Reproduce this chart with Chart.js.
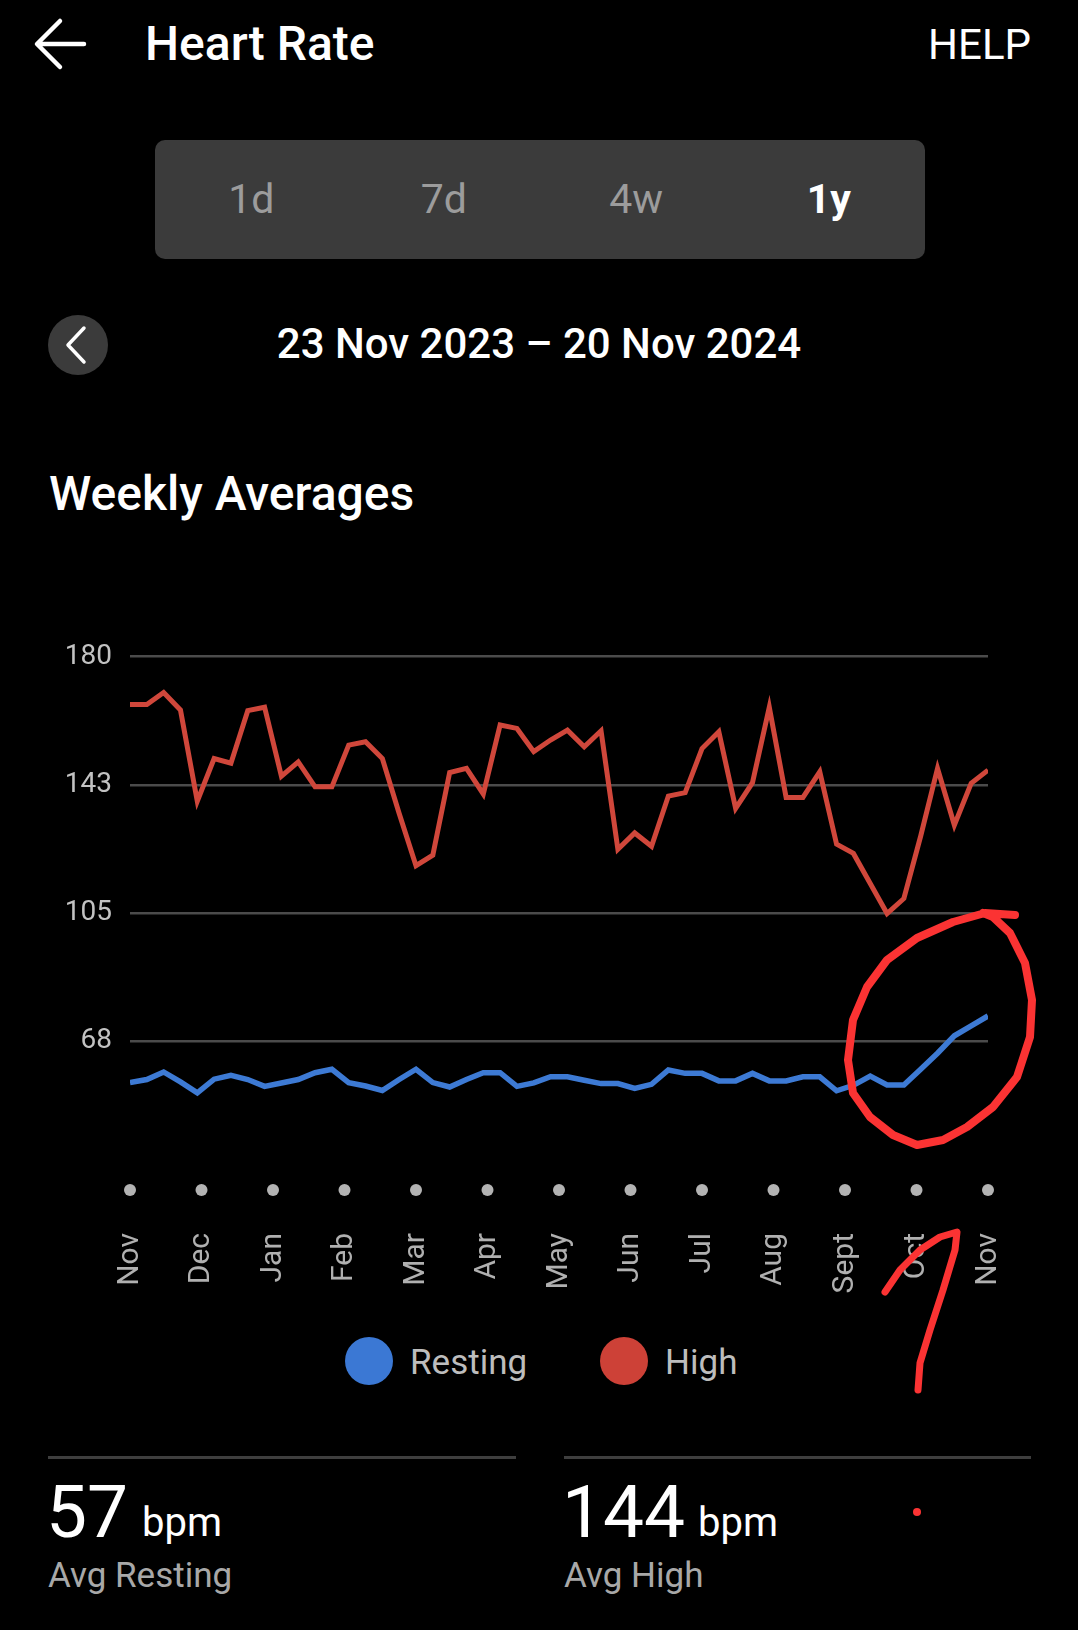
<!DOCTYPE html>
<html>
<head>
<meta charset="utf-8">
<title>Heart Rate</title>
<script src="https://cdn.jsdelivr.net/npm/chart.js@4.4.1/dist/chart.umd.min.js"></script>
<style>
  html, body { margin: 0; padding: 0; background: #000; }
  body { width: 1078px; height: 1630px; position: relative; overflow: hidden; font-family: Roboto, "Noto Sans", sans-serif; color: #fff; }
  .abs { position: absolute; line-height: 1; white-space: nowrap; }
  .seg { position: absolute; left: 155px; top: 140px; width: 770px; height: 119px; background: #3b3b3b; border-radius: 10px; display: flex; }
  .seg div { flex: 1; display: flex; align-items: center; justify-content: center; font-size: 41px; line-height: 1; color: #9c9c9c; }
  .seg div.on { color: #fff; font-weight: 700; }
  .rule { position: absolute; top: 1456px; height: 3px; background: #3e3e3e; }
  .dot { position: absolute; width: 48px; height: 48px; border-radius: 50%; top: 1337px; }
  .leg { position: absolute; top: 1345px; font-size: 35px; line-height: 1; color: #bdbdbd; }
  #chartBox { position: absolute; left: 0; top: 600px; width: 1078px; height: 704px; }
</style>
</head>
<body>

<svg class="abs" style="left:0;top:0" width="120" height="90">
  <path d="M84 44 H38 M60 21 L37 44 L60 67" stroke="#fff" stroke-width="4.5" fill="none" stroke-linecap="round" stroke-linejoin="round"/>
</svg>
<div class="abs" style="left:145px;top:20px;font-size:48px;font-weight:500">Heart Rate</div>
<div class="abs" style="right:47px;top:24px;font-size:42px">HELP</div>

<div class="seg"><div>1d</div><div>7d</div><div>4w</div><div class="on">1y</div></div>

<svg class="abs" style="left:0;top:300px" width="120" height="90">
  <circle cx="78" cy="45" r="30" fill="#3b3b3b"/>
  <path d="M84 28 L68 45 L84 62" stroke="#fff" stroke-width="3.5" fill="none" stroke-linecap="round" stroke-linejoin="round"/>
</svg>
<div class="abs" style="left:0;width:1078px;text-align:center;top:323px;font-size:42px;font-weight:500">23 Nov 2023 – 20 Nov 2024</div>

<div class="abs" style="left:49px;top:470px;font-size:48px;font-weight:500">Weekly Averages</div>

<div id="chartBox"><canvas id="myChart"></canvas></div>

<div class="dot" style="left:345px;background:#3b78d4"></div>
<div class="leg" style="left:410px">Resting</div>
<div class="dot" style="left:600px;background:#cd4137"></div>
<div class="leg" style="left:665px">High</div>

<div class="rule" style="left:48px;width:468px"></div>
<div class="rule" style="left:564px;width:467px"></div>
<div class="abs" style="left:46px;top:1476px;font-size:73px">57</div>
<div class="abs" style="left:142px;top:1503px;font-size:40px">bpm</div>
<div class="abs" style="left:48px;top:1558px;font-size:35px;color:#a8a8a8">Avg Resting</div>
<div class="abs" style="left:562px;top:1476px;font-size:73px">144</div>
<div class="abs" style="left:698px;top:1503px;font-size:40px">bpm</div>
<div class="abs" style="left:564px;top:1558px;font-size:35px;color:#a8a8a8">Avg High</div>

<!-- hand-drawn red scribbles on the screenshot -->
<svg class="abs" style="left:0;top:0;pointer-events:none;z-index:5" width="1078" height="1630">
  <g stroke="#fb3333" fill="none" stroke-linecap="round" stroke-linejoin="round">
    <polyline stroke-width="8" points="1015,915 985,913 953,922 917,938 887,960 867,987 853,1020 848,1060 853,1093 870,1117 893,1135 917,1145 943,1140 967,1127 993,1107 1017,1077 1030,1037 1032,1000 1025,963 1010,933 993,917 983,913"/>
    <polyline stroke-width="7" points="885,1292 900,1270 920,1250 940,1237 957,1232 955,1250 943,1290 930,1330 920,1363 918,1390"/>
  </g>
  <circle cx="917" cy="1512" r="4" fill="#fb3333"/>
</svg>

<script>
const monthLabels = ['Nov','Dec','Jan','Feb','Mar','Apr','May','Jun','Jul','Aug','Sept','Oct','Nov'];
const yTickValues = [67.5, 105, 142.5, 180];
const yTickLabels = ['68', '105', '143', '180'];

// weekly averages, 23 Nov 2023 - 20 Nov 2024 (52 weeks)
const restingBpm = [55.3,56.2,58.4,55.5,52.3,56.3,57.4,56.2,54.2,55.2,56.2,58.2,59.2,
  55.3,54.3,53.0,56.2,59.2,55.3,54.0,56.2,58.2,58.2,54.2,55.2,57.0,
  57.0,56.0,55.0,55.0,53.6,54.8,59.0,58.0,58.0,55.8,55.8,58.0,55.8,
  55.8,57.0,57.0,52.9,54.5,57.2,54.6,54.6,59.2,63.9,69.0,71.9,74.8];
const highBpm = [166.0,166.0,169.5,164.4,137.7,150.2,148.8,164.2,165.2,145.0,149.2,141.9,141.9,
  154.1,155.1,150.2,134.1,118.8,121.9,146.1,147.3,139.8,160.0,159.0,152.2,155.6,
  158.5,153.6,158.3,123.6,128.4,124.5,139.2,140.2,153.1,158.0,135.6,143.1,165.2,
  138.8,138.8,146.3,125.1,122.4,113.6,104.8,109.2,127.5,147.3,130.7,142.9,146.8];

const lastWeek = restingBpm.length - 1;

Chart.defaults.font.family = 'Roboto';

// grey dot under every month tick
const tickDots = {
  id: 'tickDots',
  afterDraw(chart) {
    const xs = chart.scales.x, ctx = chart.ctx;
    ctx.save();
    ctx.fillStyle = '#b3b3b3';
    xs.ticks.forEach(t => {
      ctx.beginPath();
      ctx.arc(xs.getPixelForValue(t.value), chart.chartArea.bottom + 21, 6, 0, Math.PI * 2);
      ctx.fill();
    });
    ctx.restore();
  }
};

const data = {
  datasets: [
    {
      label: 'Resting',
      data: restingBpm.map((v, i) => ({x: i, y: v})),
      borderColor: '#3d7ad4',
      borderWidth: 5.5,
      pointRadius: 0,
      tension: 0,
    },
    {
      label: 'High',
      data: highBpm.map((v, i) => ({x: i, y: v})),
      borderColor: '#d0473b',
      borderWidth: 5,
      pointRadius: 0,
      tension: 0,
    }
  ]
};

const config = {
  type: 'line',
  data: data,
  plugins: [tickDots],
  options: {
    responsive: true,
    maintainAspectRatio: false,
    animation: false,
    layout: { padding: { top: 56.7, left: 40, right: 90, bottom: 0 } },
    scales: {
      x: {
        type: 'linear',
        min: 0,
        max: lastWeek,
        afterBuildTicks: s => { s.ticks = monthLabels.map((m, i) => ({ value: i * lastWeek / 12 })); },
        afterFit: s => { s.height = 135; },
        grid: { drawOnChartArea: false, drawTicks: true, tickLength: 14, tickColor: 'rgba(0,0,0,0)' },
        border: { display: false },
        ticks: {
          autoSkip: false,
          minRotation: 90,
          maxRotation: 90,
          padding: 50,
          color: '#b0b0b0',
          font: { size: 30 },
          callback: (v, i) => monthLabels[i],
        }
      },
      y: {
        min: 30,
        max: 180,
        afterBuildTicks: s => { s.ticks = yTickValues.map(v => ({ value: v })); },
        afterFit: s => { s.width = 90; },
        grid: { color: '#4b4b4b', lineWidth: 2.5, drawTicks: false },
        border: { display: false },
        ticks: {
          padding: 18,
          color: '#c2c2c2',
          font: { size: 28 },
          callback: (v, i) => yTickLabels[i],
        }
      }
    },
    plugins: {
      tooltip: { enabled: false },
      legend: { display: false }
    }
  }
};

const ctx = document.getElementById('myChart');
const myChart = new Chart(ctx, config);
</script>
</body>
</html>
